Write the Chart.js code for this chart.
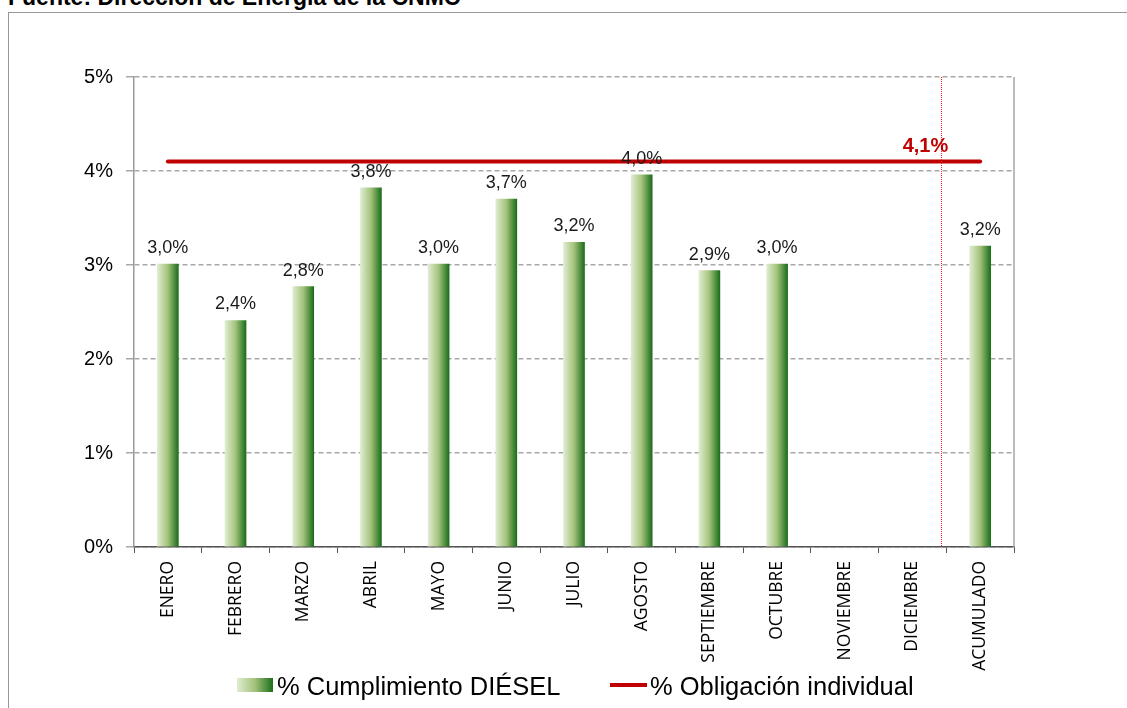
<!DOCTYPE html>
<html>
<head>
<meta charset="utf-8">
<script src="https://cdn.jsdelivr.net/npm/chart.js@4"></script>
<style>
    html, body { margin: 0; padding: 0; background: #fff; overflow: hidden; }
    body { width: 1127px; height: 708px; position: relative; font-family: 'Liberation Sans', Arial, sans-serif; }
    #frame { position: absolute; left: 8px; top: 12px; width: 1300px; height: 800px; border: 1px solid #999; box-sizing: border-box; }
    #title { position: absolute; left: 8px; top: -16px; font-weight: bold; font-size: 23px; line-height: 26px; color: #000; white-space: nowrap; }
    #chart { position: absolute; left: 0; top: 0; }
    .legend-text { position: absolute; top: 671px; font-size: 25.5px; line-height: 30px; color: #000; white-space: nowrap; }
    #leg-bar { position: absolute; left: 237px; top: 678px; width: 36px; height: 14px; background: linear-gradient(to right, #e0edd2, #a3c27a, #1b6e1b); }
    #leg-line { position: absolute; left: 610px; top: 683px; width: 37px; height: 4px; background: #c00000; }
</style>
</head>
<body>
<div id="frame"></div>
<div id="title">Fuente: Dirección de Energía de la CNMC</div>
<canvas id="chart" width="1127" height="708"></canvas>
<div id="leg-bar"></div>
<div class="legend-text" style="left:277px">% Cumplimiento DIÉSEL</div>
<div id="leg-line"></div>
<div class="legend-text" style="left:650px">% Obligación individual</div>
<script>
// categories and series
var categories = ['ENERO', 'FEBRERO', 'MARZO', 'ABRIL', 'MAYO', 'JUNIO', 'JULIO', 'AGOSTO',
    'SEPTIEMBRE', 'OCTUBRE', 'NOVIEMBRE', 'DICIEMBRE', 'ACUMULADO'];
var cumplimiento = [3.01, 2.41, 2.77, 3.82, 3.01, 3.70, 3.24, 3.96, 2.94, 3.01, null, null, 3.20];
var obligacion = [4.1, 4.1, 4.1, 4.1, 4.1, 4.1, 4.1, 4.1, 4.1, 4.1, 4.1, 4.1, 4.1];
var yTicks = [0, 1, 2, 3, 4, 5];

var FONT = "'Liberation Sans', Arial, sans-serif";

function fmt(v) {
    return v.toFixed(1).replace('.', ',') + '%';
}

document.addEventListener('DOMContentLoaded', function() {
    var barWidth = 21;

    // value labels, red 4,1% label, dotted separator and right border of the plot
    var extras = {
        id: 'extras',
        afterDatasetsDraw: function(chart) {
            var ctx = chart.ctx;
            var area = chart.chartArea;
            var xs = chart.scales.x;
            ctx.save();

            // right border of the plot area
            ctx.strokeStyle = '#a6a6a6';
            ctx.lineWidth = 1.5;
            ctx.beginPath();
            ctx.moveTo(Math.round(area.right), area.top);
            ctx.lineTo(Math.round(area.right), area.bottom);
            ctx.stroke();

            // dotted red separator before ACUMULADO
            var sep = Math.round((xs.getPixelForValue(11) + xs.getPixelForValue(12)) / 2 - 5) + 0.5;
            ctx.strokeStyle = '#ff2020';
            ctx.lineWidth = 1;
            ctx.setLineDash([1, 1]);
            ctx.beginPath();
            ctx.moveTo(sep, area.top);
            ctx.lineTo(sep, area.bottom);
            ctx.stroke();
            ctx.setLineDash([]);

            // bar value labels
            var meta = chart.getDatasetMeta(0);
            ctx.font = '18px ' + FONT;
            ctx.fillStyle = '#1a1a1a';
            ctx.textAlign = 'center';
            ctx.textBaseline = 'alphabetic';
            meta.data.forEach(function(el, i) {
                var v = cumplimiento[i];
                if (v === null) return;
                ctx.fillText(fmt(v), el.x, el.y - 11);
            });

            // obligation label
            var lmeta = chart.getDatasetMeta(1);
            var pt = lmeta.data[11];
            ctx.font = 'bold 20px ' + FONT;
            ctx.fillStyle = '#c00000';
            ctx.fillText(fmt(obligacion[11]), pt.x + 13, pt.y - 10);
            ctx.restore();
        }
    };

    var ctx = document.getElementById('chart').getContext('2d');
    new Chart(ctx, {
        type: 'bar',
        data: {
            labels: categories,
            datasets: [{
                label: '% Cumplimiento DIÉSEL',
                data: cumplimiento,
                barThickness: barWidth,
                borderWidth: 0,
                order: 2,
                backgroundColor: function(c) {
                    var chart = c.chart;
                    if (!chart.chartArea || c.type !== 'data') return '#7aa85a';
                    var x = chart.scales.x.getPixelForValue(c.dataIndex);
                    var g = chart.ctx.createLinearGradient(x - barWidth / 2, 0, x + barWidth / 2, 0);
                    g.addColorStop(0, '#e0edd2');
                    g.addColorStop(0.5, '#a3c27a');
                    g.addColorStop(1, '#1b6e1b');
                    return g;
                }
            }, {
                type: 'line',
                label: '% Obligación individual',
                data: obligacion,
                borderColor: '#c00000',
                borderWidth: 4,
                borderCapStyle: 'round',
                pointRadius: 0,
                fill: false,
                order: 1
            }]
        },
        options: {
            responsive: false,
            animation: false,
            layout: { padding: { left: 0, right: 113, top: 77, bottom: 0 } },
            plugins: {
                legend: { display: false },
                tooltip: { enabled: false }
            },
            scales: {
                x: {
                    grid: {
                        drawOnChartArea: false,
                        drawTicks: true,
                        tickLength: 6,
                        color: '#555'
                    },
                    border: { color: '#555', width: 1.5 },
                    ticks: {
                        minRotation: 90,
                        maxRotation: 90,
                        padding: 8,
                        autoSkip: false,
                        color: '#000',
                        font: { family: "'Open Sans', " + FONT, size: 17.5 }
                    },
                    afterFit: function(scale) { scale.height = 161; }
                },
                y: {
                    min: 0,
                    max: 5,
                    afterBuildTicks: function(scale) {
                        scale.ticks = yTicks.map(function(v) { return { value: v }; });
                    },
                    grid: {
                        color: '#a8a8a8',
                        lineWidth: 1.5,
                        tickLength: 8,
                        tickColor: '#a8a8a8',
                        tickWidth: 1.5
                    },
                    border: { color: '#9a9a9a', width: 1.5, dash: [5, 3] },
                    ticks: {
                        padding: 13,
                        color: '#000',
                        font: { family: FONT, size: 20 },
                        callback: function(v) { return v + '%'; }
                    },
                    afterFit: function(scale) { scale.width = 134; }
                }
            }
        },
        plugins: [extras]
    });
});
</script>
</body>
</html>
